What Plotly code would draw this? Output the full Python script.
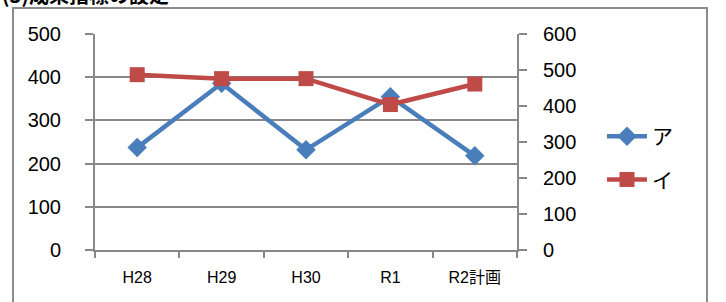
import plotly.graph_objects as go

categories = ["H28", "H29", "H30", "R1", "R2計画"]
series_a = [237, 386, 232, 355, 218]
series_i = [487, 476, 476, 404, 461]
left_ticks = [0, 100, 200, 300, 400, 500]
right_ticks = [0, 100, 200, 300, 400, 500, 600]

W, H = 726, 302
L, R, T, B = 95, 209, 34, 52
pw, ph = W - L - R, H - T - B

def px_x(x):
    return (x - L) / pw

def px_y(y):
    return (H - B - y) / ph

blue = "#4a7ebb"
red = "#be4b48"
font = "Liberation Sans, Arial, Noto Sans CJK JP, sans-serif"

fig = go.Figure()
fig.add_trace(go.Scatter(
    x=categories, y=series_a, name="ア", mode="lines+markers",
    line=dict(color=blue, width=4.5), legendgroup="a",
    marker=dict(symbol="diamond", size=15, color=blue),
    yaxis="y",
))
fig.add_trace(go.Scatter(
    x=categories, y=series_i, name="イ", mode="lines+markers",
    line=dict(color=red, width=4.5), legendgroup="i",
    marker=dict(symbol="square", size=15, color=red),
    yaxis="y2",
))

axis_col = "#888888"
fig.update_layout(
    width=W, height=H,
    margin=dict(l=L, r=R, t=T, b=B, pad=0),
    paper_bgcolor="white", plot_bgcolor="white",
    font=dict(family=font, color="#000000"),
    showlegend=True,
    legend=dict(
        x=px_x(602), y=px_y(116), xanchor="left", yanchor="top",
        font=dict(size=21, family=font), bgcolor="rgba(0,0,0,0)",
        tracegroupgap=13, itemwidth=40,
    ),
    xaxis=dict(
        type="category", range=[-0.5, 4.5], tickson="boundaries",
        showline=True, linecolor=axis_col, linewidth=2,
        ticks="outside", ticklen=6, tickcolor=axis_col, tickwidth=2,
        showgrid=False, tickfont=dict(size=16), fixedrange=True,
        zeroline=False, ticklabelstandoff=12,
    ),
    yaxis=dict(
        range=[0, 500], tickvals=left_ticks, showline=True,
        linecolor=axis_col, linewidth=2, ticks="outside", ticklen=8,
        tickcolor=axis_col, tickwidth=2, showgrid=True, gridcolor=axis_col,
        gridwidth=2, zeroline=False, tickfont=dict(size=20), ticklabelstandoff=20,
    ),
    yaxis2=dict(
        range=[0, 600], tickvals=right_ticks, overlaying="y", side="right",
        showline=True, linecolor=axis_col, linewidth=2, ticks="outside",
        ticklen=8, tickcolor=axis_col, tickwidth=2, showgrid=False,
        zeroline=False, tickfont=dict(size=20), ticklabelstandoff=12,
    ),
    shapes=[dict(
        type="rect", xref="paper", yref="paper",
        x0=px_x(13), x1=px_x(707), y0=px_y(320), y1=px_y(8),
        line=dict(color="#8c8c8c", width=2), fillcolor="rgba(0,0,0,0)",
        layer="below",
    )],
    annotations=[dict(
        text="<b>(3)成果指標の設定</b>", xref="paper", yref="paper",
        x=px_x(0), y=px_y(-5), xanchor="left", yanchor="middle",
        showarrow=False, font=dict(size=20, family="Noto Sans CJK JP"),
    )],
)

fig.write_html(
    "out.html",
    config={"displayModeBar": False},
    post_script="document.body.style.margin='0';document.body.style.overflow='hidden';",
)
